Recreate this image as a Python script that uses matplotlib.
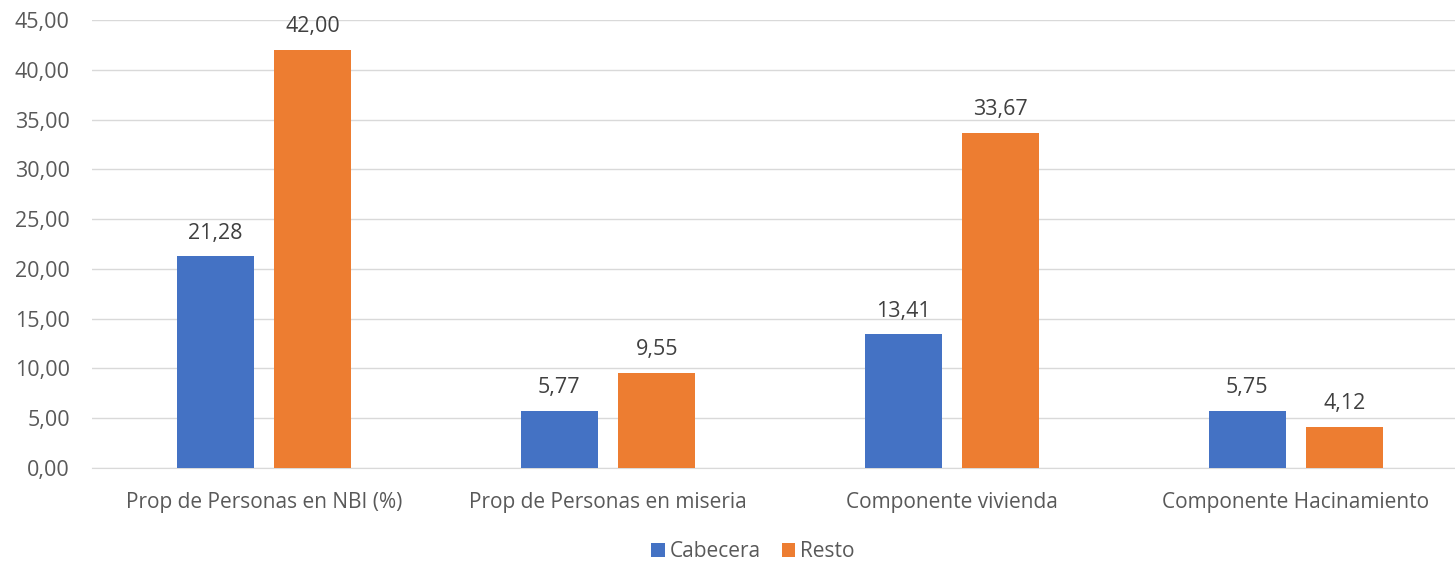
import matplotlib.pyplot as plt
import numpy as np

categorias = ["Prop de Personas en NBI (%)", "Prop de Personas en miseria",
              "Componente vivienda", "Componente Hacinamiento"]
cabecera = [21.28, 5.77, 13.41, 5.75]
resto = [42.00, 9.55, 33.67, 4.12]
y_ticks = [0, 5, 10, 15, 20, 25, 30, 35, 40, 45]

plt.rcParams['font.family'] = ['Open Sans', 'DejaVu Sans']

def coma(v):
    return f"{v:.2f}".replace('.', ',')

fig = plt.figure(figsize=(14.55, 5.63), dpi=100)
ax = fig.add_axes([92 / 1455, 1 - 468 / 563, 1376 / 1455, 448 / 563])

x = np.arange(len(categorias))
w = 0.224
off = 0.142
b1 = ax.bar(x - off, cabecera, w, color='#4472C4', label='Cabecera', zorder=3)
b2 = ax.bar(x + off, resto, w, color='#ED7D31', label='Resto', zorder=3)

for bars, vals in ((b1, cabecera), (b2, resto)):
    for b, v in zip(bars, vals):
        ax.annotate(coma(v), (b.get_x() + b.get_width() / 2, v),
                    xytext=(0, 9), textcoords='offset points',
                    ha='center', va='bottom', fontsize=15.5, color='#404040')

ax.set_xlim(-0.5, 3.5)
ax.set_ylim(0, 45)
ax.set_yticks(y_ticks)
ax.set_yticklabels([coma(t) for t in y_ticks], fontsize=15.5)
ax.set_xticks(x)
ax.set_xticklabels(categorias, fontsize=15)
ax.tick_params(axis='both', length=0, labelcolor='#595959')
ax.tick_params(axis='x', pad=17)
ax.tick_params(axis='y', pad=16)
ax.grid(axis='y', color='#D9D9D9', linewidth=1, zorder=0)
for s in ['top', 'right', 'left']:
    ax.spines[s].set_visible(False)
ax.spines['bottom'].set_color('#D9D9D9')

leg = fig.legend(loc='lower center', bbox_to_anchor=(0.5175, 0.001), ncol=2, frameon=False,
                 fontsize=15, handlelength=0.65, handleheight=0.65, handletextpad=0.25,
                 columnspacing=1.0, borderpad=0, borderaxespad=0)
for t in leg.get_texts():
    t.set_color('#595959')

fig.savefig('out.png', dpi=100)
